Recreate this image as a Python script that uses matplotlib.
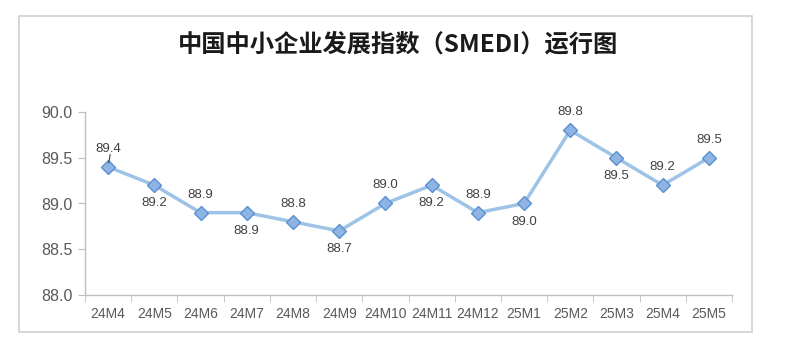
import matplotlib.pyplot as plt
from matplotlib.patches import Rectangle

plt.rcParams['font.family'] = ['Noto Sans CJK SC', 'DejaVu Sans']

# data
months = ['24M4', '24M5', '24M6', '24M7', '24M8', '24M9', '24M10', '24M11',
          '24M12', '25M1', '25M2', '25M3', '25M4', '25M5']
smedi = [89.4, 89.2, 88.9, 88.9, 88.8, 88.7, 89.0, 89.2, 88.9, 89.0, 89.8, 89.5, 89.2, 89.5]
label_pos = ['up', 'down', 'up', 'down', 'up', 'down', 'up', 'down',
             'up', 'down', 'up', 'down', 'up', 'up']
y_ticks = [88.0, 88.5, 89.0, 89.5, 90.0]

fig = plt.figure(figsize=(7.86, 3.51), dpi=100)
fig.patches.append(Rectangle((19 / 786, 1 - 332 / 351), (752 - 19) / 786, (332 - 16) / 351,
                             transform=fig.transFigure, fill=False, edgecolor='#D0D0D0',
                             linewidth=1.2))

ax = fig.add_axes([85 / 786, 1 - 295 / 351, (732 - 85) / 786, (295 - 112) / 351])
x = list(range(len(months)))
ax.plot(x, smedi, color='#9DC3E6', linewidth=2.5, marker='D', markersize=7,
        markerfacecolor='#8DB4E2', markeredgecolor='#5B8FD0', markeredgewidth=1, zorder=3)

for i, (v, p) in enumerate(zip(smedi, label_pos)):
    dy = 13 if p == 'up' else -13
    ax.annotate(f'{v:.1f}', (i, v), xytext=(0, dy), textcoords='offset points',
                ha='center', va='center', fontsize=9.5, color='#404040',
                family=['Liberation Sans'])

# small leader line at the first label
ax.annotate('', (0, smedi[0]), xytext=(1.5, 9), textcoords='offset points',
            arrowprops=dict(arrowstyle='-', color='#404040', lw=0.8, shrinkA=0, shrinkB=3))

ax.set_xlim(-0.5, len(months) - 0.5)
ax.set_ylim(88.0, 90.0)
ax.set_yticks(y_ticks)
ax.set_yticklabels([f'{t:.1f}' for t in y_ticks], family=['Liberation Sans'])
ax.set_xticks(x)
ax.set_xticklabels(months, family=['Liberation Sans'])
ax.set_xticks([i - 0.5 for i in range(len(months) + 1)], minor=True)
ax.tick_params(axis='x', which='major', length=0, labelsize=10, labelcolor='#595959', pad=9)
ax.tick_params(axis='x', which='minor', length=5, color='#BFBFBF', direction='out')
ax.tick_params(axis='y', length=5, color='#BFBFBF', labelsize=11.5, labelcolor='#595959', pad=4)

for s in ['top', 'right']:
    ax.spines[s].set_visible(False)
for s in ['left', 'bottom']:
    ax.spines[s].set_color('#BFBFBF')
    ax.spines[s].set_linewidth(1)

fig.text(398 / 786, 1 - 44 / 351, '中国中小企业发展指数（SMEDI）运行图', ha='center', va='center',
         fontsize=17.5, fontweight='bold', color='#1a1a1a')

fig.savefig('out.png', dpi=100)
